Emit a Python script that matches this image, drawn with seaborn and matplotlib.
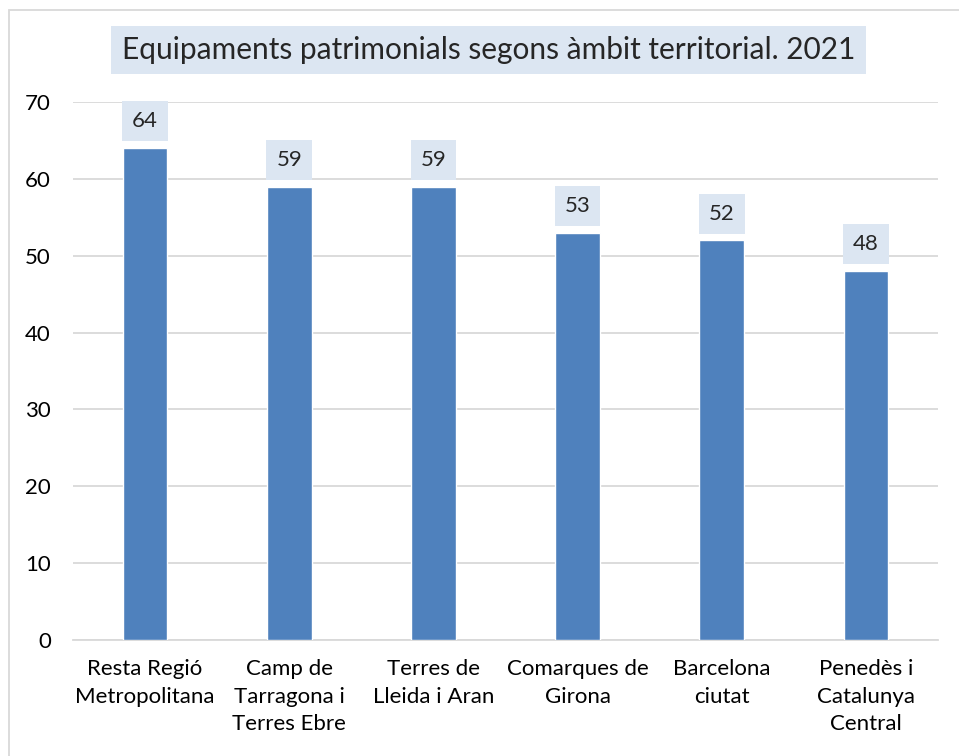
import pandas as pd
import numpy as np
import matplotlib
matplotlib.use('Agg')
import matplotlib.pyplot as plt
import seaborn as sns

# Data
ambits = ['Resta Regió\nMetropolitana', 'Camp de\nTarragona i\nTerres Ebre',
          'Terres de\nLleida i Aran', 'Comarques de\nGirona', 'Barcelona\nciutat',
          'Penedès i\nCatalunya\nCentral']
equipaments = [64, 59, 59, 53, 52, 48]
y_ticks = [0, 10, 20, 30, 40, 50, 60, 70]
title = 'Equipaments patrimonials segons àmbit territorial. 2021'

df = pd.DataFrame({'ambit': ambits, 'n': equipaments})

sns.set_style('white')
plt.rcParams['font.family'] = ['Lato', 'DejaVu Sans']

bar_color = '#4F81BD'
box_color = '#DCE6F2'
grid_color = '#D9D9D9'

fig = plt.figure(figsize=(9.59, 7.56), dpi=100)
ax = fig.add_axes([73 / 959, 1 - 640 / 756, (938 - 73) / 959, (640 - 102) / 756])

sns.barplot(data=df, x='ambit', y='n', color=bar_color, width=0.31,
            saturation=1, ax=ax, zorder=3)

ax.set_ylim(0, 70)
ax.set_yticks(y_ticks)
ax.set_xlim(-0.5, len(ambits) - 0.5)
ax.yaxis.grid(True, color=grid_color, linewidth=1.3, zorder=0)
ax.set_axisbelow(True)
for s in ['top', 'right', 'left']:
    ax.spines[s].set_visible(False)
ax.spines['bottom'].set_color(grid_color)
ax.spines['bottom'].set_linewidth(1.3)
ax.tick_params(axis='both', length=0, labelsize=16, colors='black')
ax.tick_params(axis='x', pad=14)
ax.tick_params(axis='y', pad=16)
ax.set_xlabel('')
ax.set_ylabel('')
for lbl in ax.get_xticklabels():
    lbl.set_linespacing(1.45)

# value labels in light boxes
for i, v in enumerate(equipaments):
    ax.annotate(str(v), (i, v), xytext=(0, 12), textcoords='offset points',
                ha='center', va='bottom', fontsize=16, annotation_clip=False,
                bbox=dict(boxstyle='square,pad=0.45', fc=box_color, ec='none'))

fig.text(0.5 * (115 + 862) / 959, 1 - 50 / 756, title, ha='center', va='center',
         fontsize=21.5,
         bbox=dict(boxstyle='square,pad=0.35', fc=box_color, ec='none'))

# outer border
fig.patches.append(plt.Rectangle((9 / 959, -0.01), 1.0, 1 - 10 / 756 + 0.01,
                                 transform=fig.transFigure, fill=False,
                                 ec='#D9D9D9', lw=1.3))

fig.savefig('out.png', dpi=100)
